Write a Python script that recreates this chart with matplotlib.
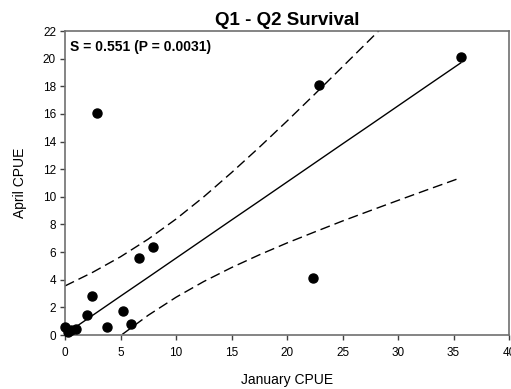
import matplotlib
matplotlib.use('Agg')
import matplotlib.pyplot as plt

plt.rcParams['font.family'] = ['Liberation Sans', 'DejaVu Sans']

# Observed CPUE pairs (January vs April)
jan_cpue = [0.0, 0.3, 0.5, 0.96, 1.95, 2.46, 3.8, 5.2, 5.98, 6.64, 7.96, 2.85, 22.9, 35.65, 22.3]
apr_cpue = [0.6, 0.24, 0.36, 0.41, 1.45, 2.8, 0.58, 1.76, 0.8, 5.57, 6.39, 16.04, 18.07, 20.14, 4.1]

# Fitted line and 95% confidence bands
fit_x = [0, 2.5, 5, 7.5, 10, 12.5, 15, 17.5, 20, 22.5, 25, 27.5, 30, 32.5, 35.65]
fit_y = [0.05, 1.43, 2.81, 4.18, 5.56, 6.94, 8.32, 9.69, 11.07, 12.45, 13.83, 15.2, 16.58, 17.96, 19.69]
upper_y = [3.55, 4.54, 5.66, 6.94, 8.39, 10.0, 11.75, 13.58, 15.48, 17.43, 19.41, 21.4, 23.41, 25.44, 28.0]
lower_y = [-3.45, -1.69, -0.05, 1.43, 2.73, 3.87, 4.88, 5.8, 6.66, 7.46, 8.25, 9.0, 9.74, 10.47, 11.38]

x_ticks = [0, 5, 10, 15, 20, 25, 30, 35, 40]
y_ticks = [0, 2, 4, 6, 8, 10, 12, 14, 16, 18, 20, 22]

title = 'Q1 - Q2 Survival'
stat_text = 'S = 0.551 (P = 0.0031)'

fig = plt.figure(figsize=(5.11, 3.89), dpi=100)
ax = fig.add_axes([0.1272, 0.1388, 0.8689, 0.7815])

ax.plot(fit_x, fit_y, color='black', lw=1.0)
ax.plot(fit_x, upper_y, color='black', lw=1.0, dashes=(7.2, 3.6))
ax.plot(fit_x, lower_y, color='black', lw=1.0, dashes=(7.2, 3.6))
ax.plot(jan_cpue, apr_cpue, 'o', color='black', ms=6.5, clip_on=False, zorder=3)

ax.set_xlim(0, 40)
ax.set_ylim(0, 22)
ax.set_xticks(x_ticks)
ax.set_yticks(y_ticks)
ax.tick_params(axis='both', labelsize=8.5, length=3.5, width=1, color='#404040', direction='out')
ax.tick_params(axis='x', pad=5)
ax.tick_params(axis='y', pad=3)

for side in ['left', 'bottom', 'top', 'right']:
    ax.spines[side].set_color('#707070')
    ax.spines[side].set_linewidth(1.2)

ax.set_xlabel('January CPUE', fontsize=10, labelpad=10)
ax.set_ylabel('April CPUE', fontsize=10, labelpad=11)
ax.set_title(title, fontsize=13.5, fontweight='bold', pad=4)

ax.annotate(stat_text, xy=(0, 1), xycoords='axes fraction', xytext=(3.6, -11.5),
            textcoords='offset points', fontsize=10, fontweight='bold', ha='left', va='center')

fig.savefig('out.png', dpi=100)
